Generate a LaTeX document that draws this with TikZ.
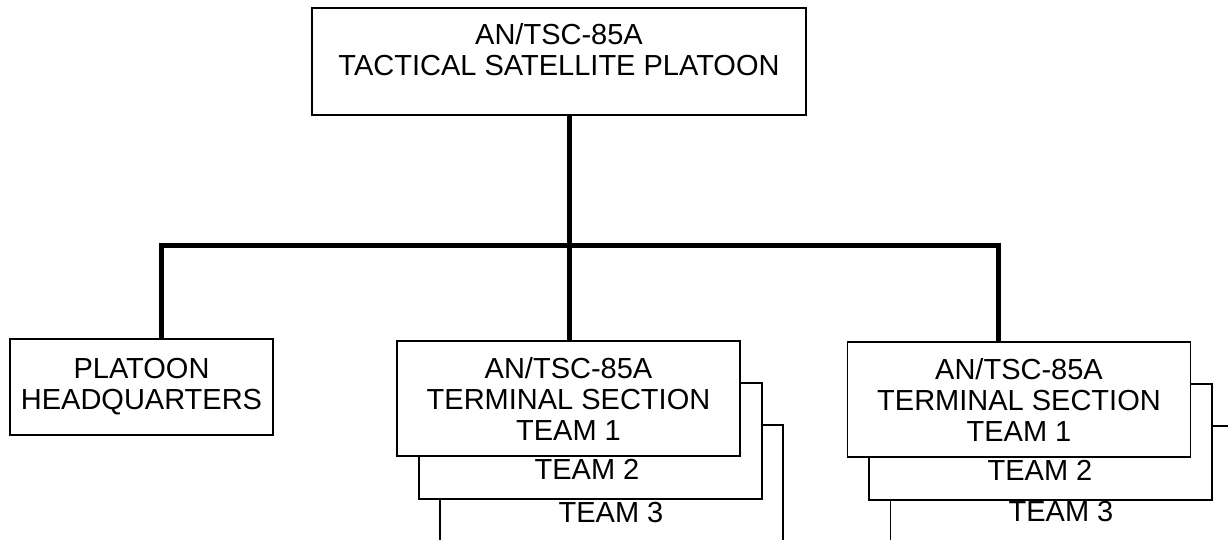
\documentclass[tikz,border=0pt]{standalone}
\usepackage{fontspec}
\setmainfont{Liberation Sans}
\begin{document}
\begin{tikzpicture}[x=0.5pt,y=-0.5pt,
  every node/.style={font=\fontsize{14.5}{15.5}\selectfont},
  unitbox/.style={draw,line width=0.9pt,fill=white,inner sep=0pt,align=center},
  teambox/.style={unitbox,minimum width=171.5pt,minimum height=57.75pt},
  txt/.style={inner sep=0pt,align=center},
  feed/.style={line width=2.5pt}]
  \useasboundingbox (0,0) rectangle (1228,540);
  \clip (0,0) rectangle (1228,540);
  % platoon and headquarters
  \node[unitbox,minimum width=247pt,minimum height=53.5pt] (platoon) at (559,61.5) {};
  \node[txt] (platoontxt) at (559,50) {AN/TSC-85A\\TACTICAL SATELLITE PLATOON};
  \node[unitbox,minimum width=131.5pt,minimum height=48pt] (hq) at (141.5,387) {PLATOON\\HEADQUARTERS};
  % first terminal section
  \node[teambox] (secAteam3) at (611.5,483) {};
  \node[txt] (secAteam3txt) at (611,513) {TEAM 3};
  \node[teambox] (secAteam2) at (590.5,441) {};
  \node[txt] (secAteam2txt) at (587,469) {TEAM 2};
  \node[teambox] (secAteam1) at (568.5,398.5) {AN/TSC-85A\\TERMINAL SECTION\\TEAM 1};
  % second terminal section
  \node[teambox] (secBteam3) at (1062,484) {};
  \node[txt] (secBteam3txt) at (1061,512) {TEAM 3};
  \node[teambox] (secBteam2) at (1040.5,442) {};
  \node[txt] (secBteam2txt) at (1040,470) {TEAM 2};
  \node[teambox] (secBteam1) at (1019,399.5) {AN/TSC-85A\\TERMINAL SECTION\\TEAM 1};
  % feeds
  \coordinate (hub) at (569,246);
  \coordinate (jl) at (161,246);
  \coordinate (jr) at (998,246);
  \draw[feed] (platoon.south -| hub) -- (hub) -- (secAteam1.north -| hub);
  \draw[feed] (hq.north -| jl) -- (jl) -- (jr) -- (secBteam1.north -| jr);
\end{tikzpicture}
\end{document}
